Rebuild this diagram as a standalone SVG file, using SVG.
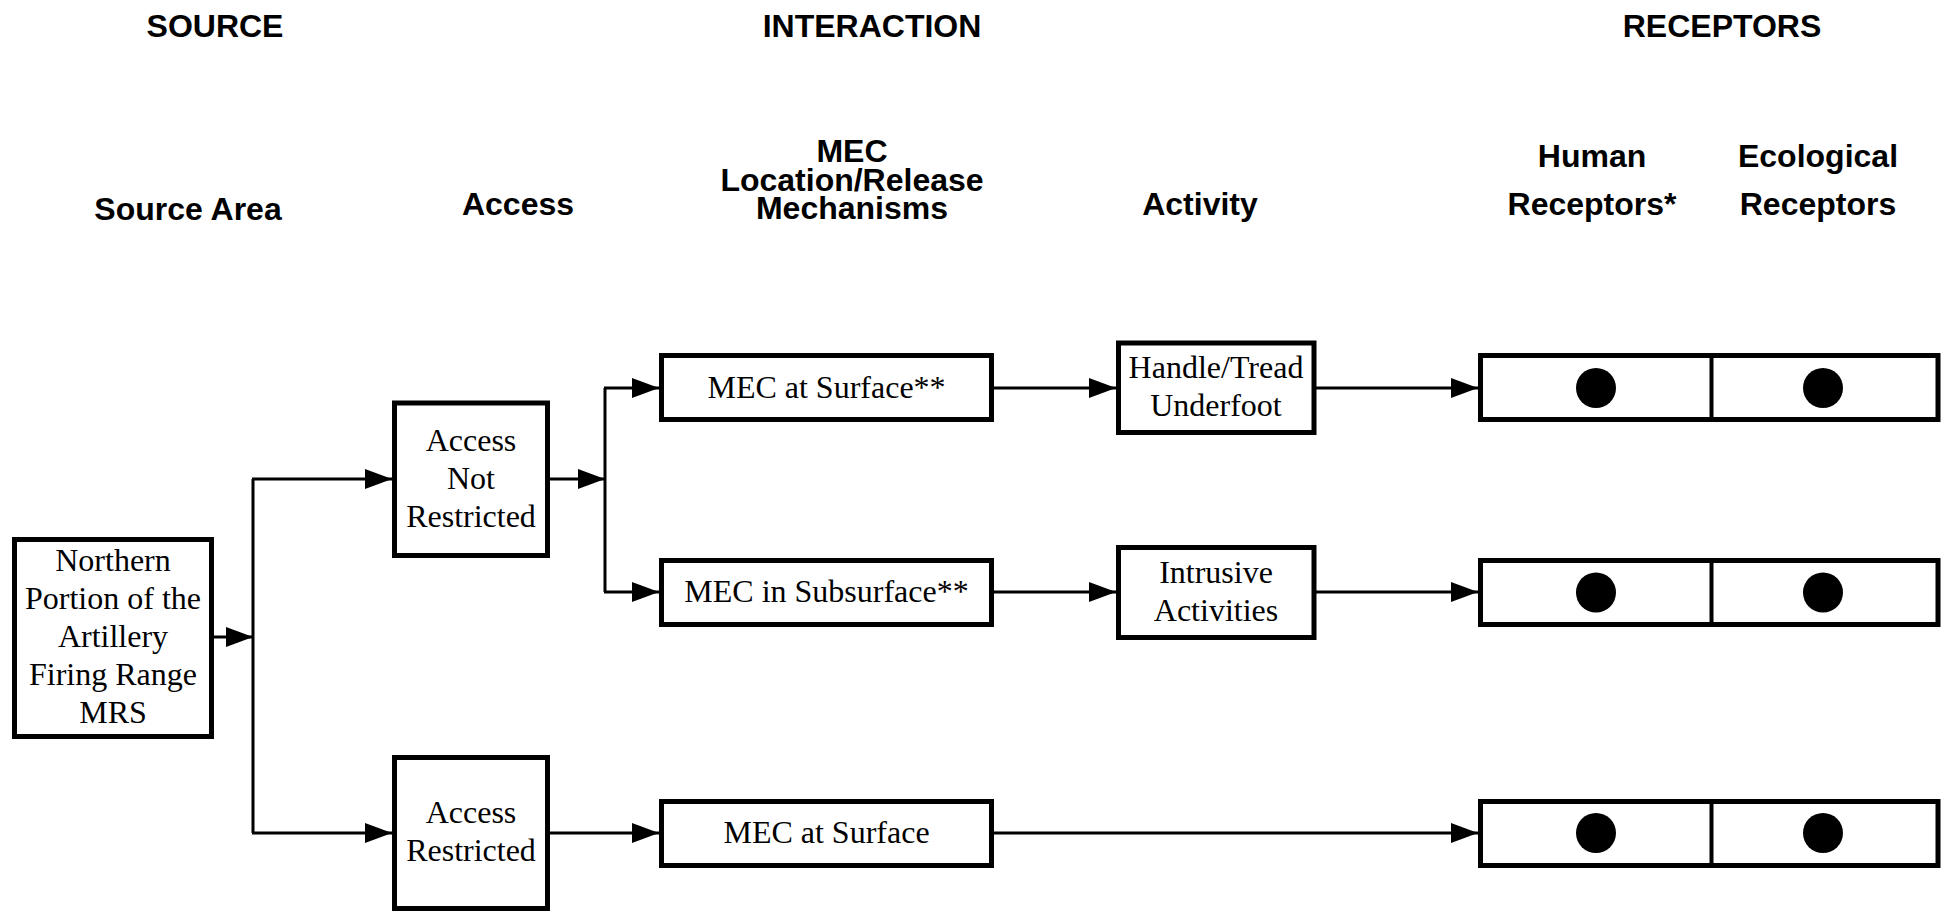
<svg xmlns="http://www.w3.org/2000/svg" width="1950" height="912" viewBox="0 0 1950 912">
  <style>
    .head { font-family: "Liberation Sans", Arial, sans-serif; font-weight: bold; font-size: 32px; text-anchor: middle; fill: #000; }
    .lbl { font-family: "Liberation Serif", "Times New Roman", serif; font-size: 32px; text-anchor: middle; fill: #000; }
    .box { fill: #fff; stroke: #000; stroke-width: 5; }
    .div { stroke: #000; stroke-width: 4; }
    .dot { fill: #000; }
    .wire { fill: none; stroke: #000; stroke-width: 3; }
  </style>
  <defs>
    <marker id="arrow" markerUnits="userSpaceOnUse" markerWidth="27" markerHeight="20" refX="27" refY="10" orient="auto">
      <path d="M0,0 L27,10 L0,20 Z" fill="#000"/>
    </marker>
  </defs>
  <rect width="1950" height="912" fill="#fff"/>

  <!-- column headings -->
  <g id="headings">
    <text class="head" x="215" y="37">SOURCE</text>
    <text class="head" x="872" y="37">INTERACTION</text>
    <text class="head" x="1722" y="37">RECEPTORS</text>
    <text class="head" x="188" y="220">Source Area</text>
    <text class="head" x="518" y="215">Access</text>
    <text class="head" x="852" y="162">MEC</text>
    <text class="head" x="852" y="191">Location/Release</text>
    <text class="head" x="852" y="219">Mechanisms</text>
    <text class="head" x="1200" y="215">Activity</text>
    <text class="head" x="1592" y="167">Human</text>
    <text class="head" x="1592" y="215">Receptors*</text>
    <text class="head" x="1818" y="167">Ecological</text>
    <text class="head" x="1818" y="215">Receptors</text>
  </g>

  <!-- connectors -->
  <g id="connectors">
    <line class="wire" x1="214" y1="637" x2="253" y2="637" marker-end="url(#arrow)"/>
    <line class="wire" x1="253" y1="479" x2="253" y2="833"/>
    <line class="wire" x1="252" y1="479" x2="392" y2="479" marker-end="url(#arrow)"/>
    <line class="wire" x1="252" y1="833" x2="392" y2="833" marker-end="url(#arrow)"/>
    <line class="wire" x1="550" y1="479" x2="605" y2="479" marker-end="url(#arrow)"/>
    <line class="wire" x1="605" y1="388" x2="605" y2="592"/>
    <line class="wire" x1="604" y1="388" x2="659" y2="388" marker-end="url(#arrow)"/>
    <line class="wire" x1="604" y1="592" x2="659" y2="592" marker-end="url(#arrow)"/>
    <line class="wire" x1="550" y1="833" x2="659" y2="833" marker-end="url(#arrow)"/>
    <line class="wire" x1="994" y1="388" x2="1116" y2="388" marker-end="url(#arrow)"/>
    <line class="wire" x1="994" y1="592" x2="1116" y2="592" marker-end="url(#arrow)"/>
    <line class="wire" x1="1316" y1="388" x2="1478" y2="388" marker-end="url(#arrow)"/>
    <line class="wire" x1="1316" y1="592" x2="1478" y2="592" marker-end="url(#arrow)"/>
    <line class="wire" x1="994" y1="833" x2="1478" y2="833" marker-end="url(#arrow)"/>
  </g>

  <!-- source -->
  <g id="source-area">
    <rect class="box" x="14.5" y="539.5" width="197" height="197"/>
    <text class="lbl" x="113" y="571">Northern</text>
    <text class="lbl" x="113" y="609">Portion of the</text>
    <text class="lbl" x="113" y="647">Artillery</text>
    <text class="lbl" x="113" y="685">Firing Range</text>
    <text class="lbl" x="113" y="723">MRS</text>
  </g>

  <!-- access -->
  <g id="access-not-restricted">
    <rect class="box" x="394.5" y="403" width="153" height="152.5"/>
    <text class="lbl" x="471" y="451">Access</text>
    <text class="lbl" x="471" y="489">Not</text>
    <text class="lbl" x="471" y="527">Restricted</text>
  </g>
  <g id="access-restricted">
    <rect class="box" x="394.5" y="757.5" width="153" height="151"/>
    <text class="lbl" x="471" y="823">Access</text>
    <text class="lbl" x="471" y="861">Restricted</text>
  </g>

  <!-- location / release mechanisms -->
  <g id="mec-surface-open">
    <rect class="box" x="661.5" y="355.5" width="330" height="64"/>
    <text class="lbl" x="826.5" y="398">MEC at Surface**</text>
  </g>
  <g id="mec-subsurface">
    <rect class="box" x="661.5" y="560.5" width="330" height="64"/>
    <text class="lbl" x="826.5" y="602">MEC in Subsurface**</text>
  </g>
  <g id="mec-surface-restricted">
    <rect class="box" x="661.5" y="801.5" width="330" height="64"/>
    <text class="lbl" x="826.5" y="843">MEC at Surface</text>
  </g>

  <!-- activities -->
  <g id="handle-tread">
    <rect class="box" x="1118.5" y="343" width="195.5" height="89.5"/>
    <text class="lbl" x="1216" y="378">Handle/Tread</text>
    <text class="lbl" x="1216" y="416">Underfoot</text>
  </g>
  <g id="intrusive">
    <rect class="box" x="1118.5" y="547.5" width="195.5" height="90"/>
    <text class="lbl" x="1216" y="583">Intrusive</text>
    <text class="lbl" x="1216" y="621">Activities</text>
  </g>

  <!-- receptors -->
  <g id="receptors-row1">
    <rect class="box" x="1480.5" y="355.5" width="457.5" height="64"/>
    <line class="div" x1="1711.5" y1="355.5" x2="1711.5" y2="419.5"/>
    <circle class="dot" cx="1596" cy="388" r="20"/>
    <circle class="dot" cx="1823" cy="388" r="20"/>
  </g>
  <g id="receptors-row2">
    <rect class="box" x="1480.5" y="560.5" width="457.5" height="64"/>
    <line class="div" x1="1711.5" y1="560.5" x2="1711.5" y2="624.5"/>
    <circle class="dot" cx="1596" cy="592.5" r="20"/>
    <circle class="dot" cx="1823" cy="592.5" r="20"/>
  </g>
  <g id="receptors-row3">
    <rect class="box" x="1480.5" y="801.5" width="457.5" height="64"/>
    <line class="div" x1="1711.5" y1="801.5" x2="1711.5" y2="865.5"/>
    <circle class="dot" cx="1596" cy="833" r="20"/>
    <circle class="dot" cx="1823" cy="833" r="20"/>
  </g>
</svg>
